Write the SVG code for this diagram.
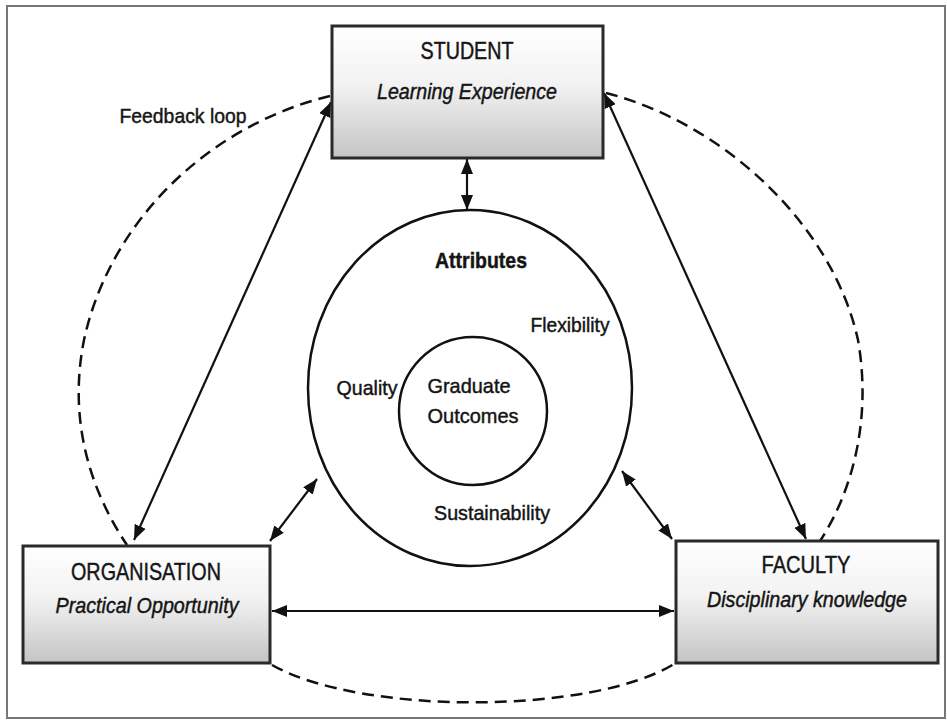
<svg xmlns="http://www.w3.org/2000/svg" width="947" height="720" viewBox="0 0 947 720">
<style>
.box{stroke:#2a2a2a;stroke-width:3;fill:url(#g)}
.t{font-family:"Liberation Sans",Arial,sans-serif;fill:#151515;stroke:#151515;stroke-width:0.45}
.h{font-size:24px}
.i{font-size:22px;font-style:italic}
.l{font-size:21px}
.c{fill:none;stroke:#111;stroke-width:2.5}
.a{fill:none;stroke:#111;stroke-width:2.2;marker-end:url(#ah);marker-start:url(#ah)}
.d{fill:none;stroke:#111;stroke-width:2.5;stroke-dasharray:12 7}
</style>
<defs>
<linearGradient id="g" x1="0" y1="0" x2="0" y2="1">
<stop offset="0" stop-color="#ffffff"/>
<stop offset="0.45" stop-color="#f2f2f2"/>
<stop offset="1" stop-color="#c4c4c4"/>
</linearGradient>
<marker id="ah" markerUnits="userSpaceOnUse" markerWidth="15" markerHeight="12" viewBox="0 0 15 12" refX="15" refY="6" orient="auto-start-reverse">
<path d="M0,0 L15,6 L0,12 z" fill="#111"/>
</marker>
</defs>
<rect x="0" y="0" width="947" height="720" fill="#fff"/>
<rect x="7" y="6" width="938" height="712" fill="none" stroke="#777" stroke-width="2"/>

<g id="connectors">
<path class="d" d="M330,96 C210,125 110,220 84,340 C68,420 90,490 127,545"/>
<path class="d" d="M606,93 C720,122 832,222 858,340 C872,420 852,492 820,541"/>
<path class="d" d="M272,665 C360,715 590,715 674,664"/>
<line class="a" x1="467" y1="159" x2="467" y2="210"/>
<line class="a" x1="134" y1="540" x2="331" y2="102"/>
<line class="a" x1="604" y1="93" x2="806" y2="539"/>
<line class="a" x1="270" y1="541" x2="317" y2="479"/>
<line class="a" x1="622" y1="471" x2="672" y2="539"/>
<line class="a" x1="272" y1="611" x2="674" y2="611"/>
</g>

<g id="attributes">
<ellipse class="c" cx="470" cy="388" rx="162" ry="178" fill="#fff"/>
<text class="t" x="481" y="268" text-anchor="middle" font-size="22" font-weight="bold" textLength="92" lengthAdjust="spacingAndGlyphs">Attributes</text>
<text class="t l" x="570" y="332" text-anchor="middle" textLength="79" lengthAdjust="spacingAndGlyphs">Flexibility</text>
<text class="t l" x="367" y="395" text-anchor="middle" textLength="61" lengthAdjust="spacingAndGlyphs">Quality</text>
<text class="t l" x="492" y="520" text-anchor="middle" textLength="116" lengthAdjust="spacingAndGlyphs">Sustainability</text>
</g>

<g id="outcomes">
<circle class="c" cx="473" cy="411" r="74" fill="#fff"/>
<text class="t l" x="469" y="393" text-anchor="middle" textLength="83" lengthAdjust="spacingAndGlyphs">Graduate</text>
<text class="t l" x="473" y="423" text-anchor="middle" textLength="91" lengthAdjust="spacingAndGlyphs">Outcomes</text>
</g>

<g id="student">
<rect class="box" x="332" y="26" width="271" height="132"/>
<text class="t h" x="467" y="59" text-anchor="middle" textLength="93" lengthAdjust="spacingAndGlyphs">STUDENT</text>
<text class="t i" x="467" y="99" text-anchor="middle" textLength="180" lengthAdjust="spacingAndGlyphs">Learning Experience</text>
</g>

<g id="organisation">
<rect class="box" x="23" y="546" width="247" height="117"/>
<text class="t h" x="146" y="580" text-anchor="middle" textLength="150" lengthAdjust="spacingAndGlyphs">ORGANISATION</text>
<text class="t i" x="147" y="613" text-anchor="middle" textLength="183" lengthAdjust="spacingAndGlyphs">Practical Opportunity</text>
</g>

<g id="faculty">
<rect class="box" x="676" y="541" width="262" height="122"/>
<text class="t h" x="806" y="573" text-anchor="middle" textLength="89" lengthAdjust="spacingAndGlyphs">FACULTY</text>
<text class="t i" x="807" y="607" text-anchor="middle" textLength="200" lengthAdjust="spacingAndGlyphs">Disciplinary knowledge</text>
</g>

<g id="feedback-label">
<text class="t l" x="183" y="123" text-anchor="middle" textLength="127" lengthAdjust="spacingAndGlyphs">Feedback loop</text>
</g>
</svg>
